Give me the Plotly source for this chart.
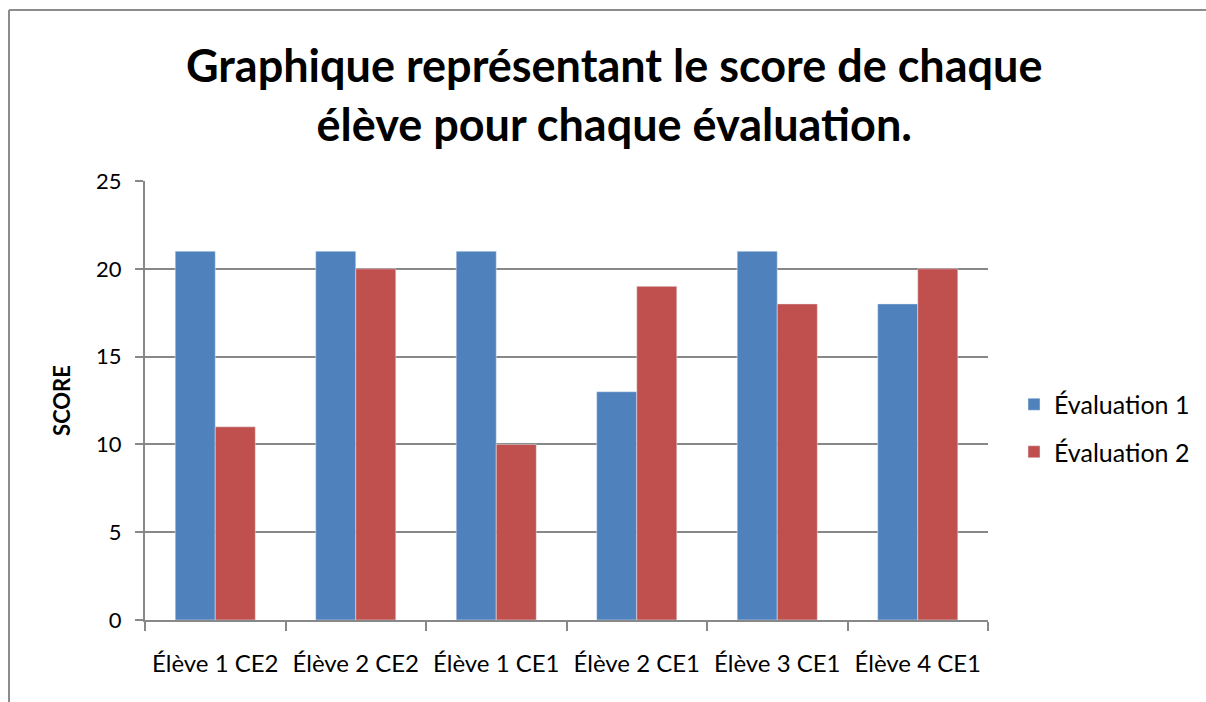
import plotly.graph_objects as go

categories = ["Élève 1 CE2", "Élève 2 CE2", "Élève 1 CE1", "Élève 2 CE1", "Élève 3 CE1", "Élève 4 CE1"]
eval1 = [21, 21, 21, 13, 21, 18]
eval2 = [11, 20, 10, 19, 18, 20]
series_names = ["Évaluation 1", "Évaluation 2"]
y_ticks = [0, 5, 10, 15, 20, 25]

FONT = "Lato"
GRID = "#888888"

L, R, T, B = 145, 218, 181, 82
W, H = 1206, 702
pw = W - L - R
ph = H - T - B

def px_x(x):
    return (x - L) / pw

def px_y(y):
    return (H - B - y) / ph

fig = go.Figure()
fig.add_trace(go.Bar(x=categories, y=eval1, name=series_names[0], marker_color="#4F81BD",
                     legendgroup="a"))
fig.add_trace(go.Bar(x=categories, y=eval2, name=series_names[1], marker_color="#C0504D",
                     legendgroup="b"))

fig.update_layout(
    width=W, height=H,
    margin=dict(l=L, r=R, t=T, b=B, autoexpand=False),
    paper_bgcolor="white", plot_bgcolor="white",
    barmode="group", bargap=0.43, bargroupgap=0,
    font=dict(family=FONT, size=22, color="black"),
    showlegend=True,
    legend=dict(x=px_x(1014), y=px_y(428), xanchor="left", yanchor="middle",
                font=dict(family=FONT, size=25), tracegroupgap=12, itemwidth=30,
                bgcolor="rgba(0,0,0,0)"),
    xaxis=dict(showline=True, linecolor=GRID, linewidth=2, ticks="outside",
               tickson="boundaries", ticklen=9, tickcolor=GRID, tickwidth=2,
               showgrid=False, tickfont=dict(size=24), ticklabelstandoff=21,
               fixedrange=True),
    yaxis=dict(range=[0, 25], tickvals=y_ticks, showline=True, linecolor=GRID, linewidth=2,
               ticks="outside", ticklen=8, tickcolor=GRID, tickwidth=2,
               showgrid=True, gridcolor=GRID, gridwidth=2, zeroline=False,
               tickfont=dict(size=22), ticklabelstandoff=9, fixedrange=True,
               title=dict(text="<b>SCORE</b>", font=dict(size=22), standoff=19)),
)

fig.add_annotation(xref="paper", yref="paper", x=px_x(614), y=px_y(95),
                   xanchor="center", yanchor="middle",
                   text="<b>Graphique représentant le score de chaque<br>élève pour chaque évaluation.</b>",
                   showarrow=False, font=dict(family=FONT, size=45, color="black"),
                   align="center")

# outer chart border (left and top visible)
fig.add_shape(type="line", xref="paper", yref="paper",
              x0=px_x(9), x1=px_x(9), y0=px_y(10), y1=px_y(702),
              line=dict(color="#8c8c8c", width=2))
fig.add_shape(type="line", xref="paper", yref="paper",
              x0=px_x(9), x1=px_x(1206), y0=px_y(10), y1=px_y(10),
              line=dict(color="#8c8c8c", width=2))

fig.write_html("out.html", config={"displayModeBar": False},
               post_script="document.body.style.margin='0';")
